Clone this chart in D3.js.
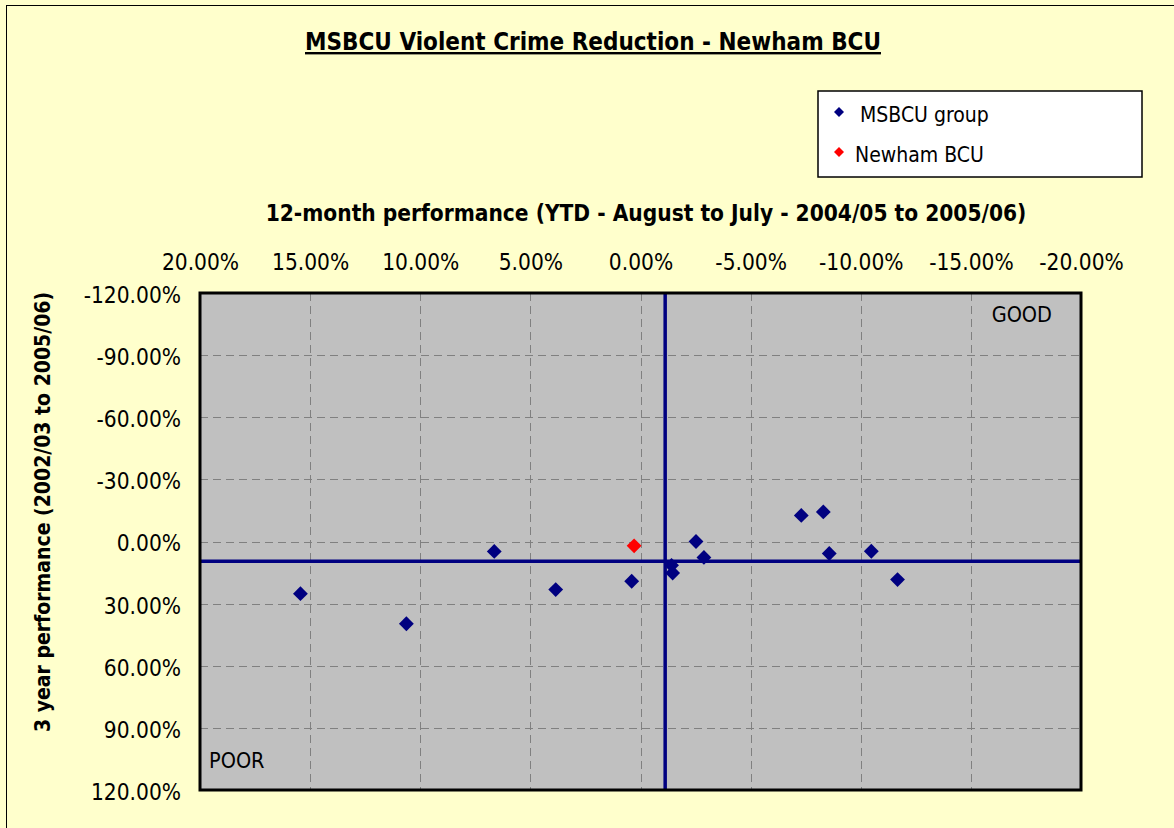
<!DOCTYPE html>
<meta charset="utf-8">
<style>
  body { margin: 0; background: #ffffcc; }
  text { font-family: "DejaVu Sans Condensed", "DejaVu Sans", sans-serif; fill: #000; }
</style>
<body>
<script src="https://d3js.org/d3.v7.min.js"></script>
<script>

// 12-month performance (x) and 3 year performance (y), in percent
const groupX = [15.44, 10.63, 6.64, 3.85, 0.40, -1.41, -1.46, -2.52, -2.88, -7.30, -8.30, -8.57, -10.48, -11.67];
const groupY = [25.2, 39.7, 4.8, 23.2, 19.2, 11.5, 15.2, 0.0, 7.7, -12.6, -14.3, 5.8, 4.7, 18.4];
const newhamX = [0.29];
const newhamY = [2.1];

// group averages drawn as cross lines
const avgX = -1.12;
const avgY = 9.5;

const xTicks = [20, 15, 10, 5, 0, -5, -10, -15, -20];
const yTicks = [-120, -90, -60, -30, 0, 30, 60, 90, 120];
const seriesNames = ["MSBCU group", "Newham BCU"];
const seriesColors = ["#000080", "#ff0000"];

const W = 1174, H = 828;
const plot = {left: 200, top: 293, right: 1081, bottom: 790};

const svg = d3.select("body").append("svg")
    .attr("width", W)
    .attr("height", H);

// chart area background + frame
svg.append("rect")
    .attr("x", 6.5).attr("y", 5.5)
    .attr("width", W + 10).attr("height", H + 10)
    .attr("fill", "#ffffcc")
    .attr("stroke", "#000")
    .attr("stroke-width", 1);

const x = d3.scaleLinear().domain([20, -20]).range([plot.left, plot.right]);
const y = d3.scaleLinear().domain([-120, 120]).range([plot.top, plot.bottom]);
// plain hyphen for negatives, like the original
const fmt = d => d.toFixed(2) + "%";

// plot area
svg.append("rect")
    .attr("x", plot.left).attr("y", plot.top)
    .attr("width", plot.right - plot.left)
    .attr("height", plot.bottom - plot.top)
    .attr("fill", "#c0c0c0");

// dashed gridlines
const grid = svg.append("g")
    .attr("stroke", "#808080")
    .attr("stroke-width", 1)
    .attr("stroke-dasharray", "8,5");
grid.selectAll(".gx").data(xTicks.slice(1, -1)).enter().append("line")
    .attr("x1", d => Math.round(x(d)) + 0.5).attr("x2", d => Math.round(x(d)) + 0.5)
    .attr("y1", plot.top).attr("y2", plot.bottom);
grid.selectAll(".gy").data(yTicks.slice(1, -1)).enter().append("line")
    .attr("y1", d => Math.round(y(d)) + 0.5).attr("y2", d => Math.round(y(d)) + 0.5)
    .attr("x1", plot.left).attr("x2", plot.right);

// average cross lines
svg.append("line")
    .attr("x1", x(avgX)).attr("x2", x(avgX))
    .attr("y1", plot.top).attr("y2", plot.bottom)
    .attr("stroke", "#000080").attr("stroke-width", 3.5);
svg.append("line")
    .attr("x1", plot.left).attr("x2", plot.right)
    .attr("y1", y(avgY)).attr("y2", y(avgY))
    .attr("stroke", "#000080").attr("stroke-width", 3.5);

// plot border
svg.append("rect")
    .attr("x", plot.left).attr("y", plot.top)
    .attr("width", plot.right - plot.left)
    .attr("height", plot.bottom - plot.top)
    .attr("fill", "none")
    .attr("stroke", "#000")
    .attr("stroke-width", 3);

// axes (tick labels only)
const xAxis = svg.append("g")
    .attr("transform", "translate(0," + (plot.top - 20) + ")")
    .call(d3.axisTop(x).tickValues(xTicks).tickFormat(fmt).tickSize(0));
const yAxis = svg.append("g")
    .attr("transform", "translate(" + (plot.left - 16) + ",0)")
    .call(d3.axisLeft(y).tickValues(yTicks).tickFormat(fmt).tickSize(0));
[xAxis, yAxis].forEach(a => {
    a.select(".domain").remove();
    a.selectAll("text")
        .style("font-family", "\"DejaVu Sans Condensed\", \"DejaVu Sans\", sans-serif")
        .style("font-size", "22.5px")
        .attr("fill", "#000");
});
yAxis.selectAll("text").attr("dy", "0.42em");

// points
const diamond = d3.symbol().type(d3.symbolSquare).size(110);
const groupPts = groupX.map((v, i) => ({x: v, y: groupY[i]}));
const newhamPts = newhamX.map((v, i) => ({x: v, y: newhamY[i]}));
svg.selectAll(".grp").data(groupPts).enter().append("path")
    .attr("d", diamond)
    .attr("transform", d => "translate(" + x(d.x) + "," + y(d.y) + ") rotate(45)")
    .attr("fill", seriesColors[0]);
svg.selectAll(".nwh").data(newhamPts).enter().append("path")
    .attr("d", diamond)
    .attr("transform", d => "translate(" + x(d.x) + "," + y(d.y) + ") rotate(45)")
    .attr("fill", seriesColors[1]);

// quadrant labels
svg.append("text")
    .attr("x", 1052).attr("y", 322)
    .attr("text-anchor", "end")
    .style("font-size", "21.5px")
    .text("GOOD");
svg.append("text")
    .attr("x", 209).attr("y", 768)
    .style("font-size", "21.5px")
    .text("POOR");

// title
svg.append("text")
    .attr("x", 593).attr("y", 50)
    .attr("text-anchor", "middle")
    .style("font-size", "24px")
    .style("font-weight", "bold")
    .style("text-decoration", "underline")
    .text("MSBCU Violent Crime Reduction - Newham BCU");

// axis titles
svg.append("text")
    .attr("x", 646).attr("y", 221)
    .attr("text-anchor", "middle")
    .style("font-size", "22.5px")
    .style("font-weight", "bold")
    .text("12-month performance (YTD - August to July - 2004/05 to 2005/06)");
svg.append("text")
    .attr("transform", "translate(50,512) rotate(-90)")
    .attr("text-anchor", "middle")
    .style("font-size", "21px")
    .style("font-weight", "bold")
    .text("3 year performance (2002/03 to 2005/06)");

// legend
const legend = svg.append("g").attr("transform", "translate(818,91)");
legend.append("rect")
    .attr("width", 324).attr("height", 86)
    .attr("fill", "#fff")
    .attr("stroke", "#000")
    .attr("stroke-width", 1.5);
const legendMark = d3.symbol().type(d3.symbolSquare).size(50);
seriesNames.forEach((name, i) => {
    legend.append("path")
        .attr("d", legendMark)
        .attr("transform", "translate(21," + (21 + i * 40) + ") rotate(45)")
        .attr("fill", seriesColors[i]);
    legend.append("text")
        .attr("x", i === 0 ? 42 : 37)
        .attr("y", 31 + i * 40)
        .style("font-size", "21px")
        .text(name);
});

</script>
</body>
